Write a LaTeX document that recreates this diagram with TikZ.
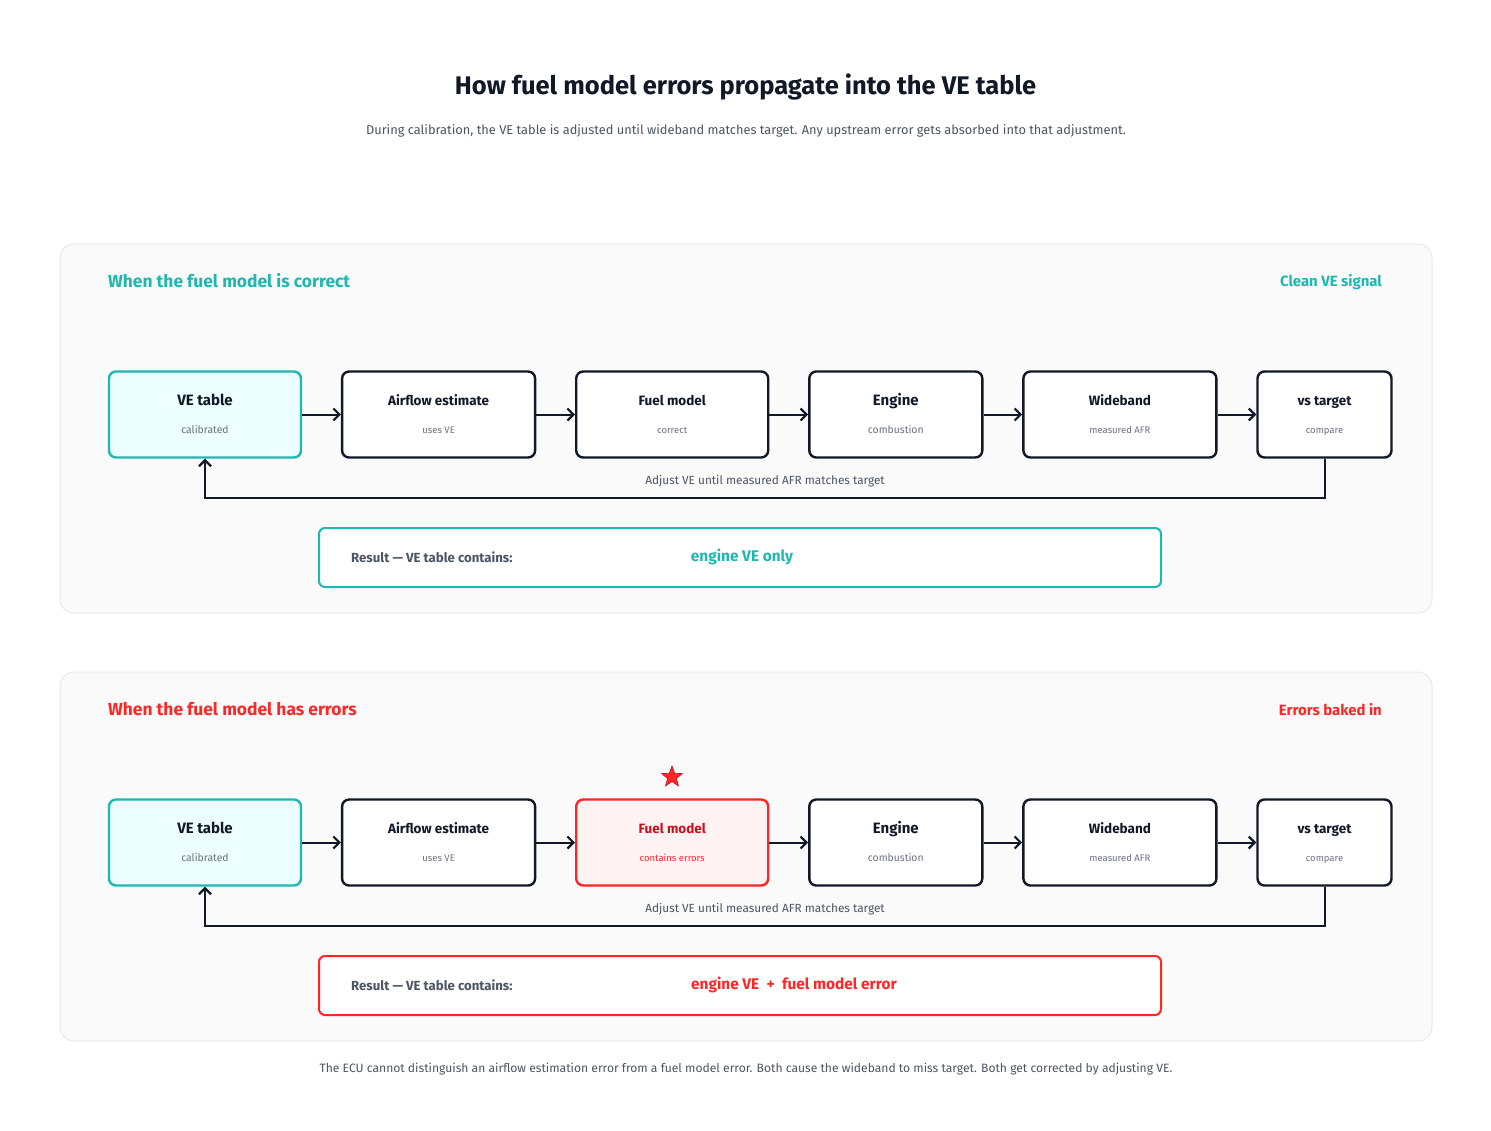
\documentclass[tikz,border=0pt]{standalone}
\usepackage{fontspec}
\setmainfont{Fira Sans}
\usetikzlibrary{positioning}
\usetikzlibrary{arrows.meta}
\usetikzlibrary{shapes.geometric}
\definecolor{ink}{HTML}{111827}
\definecolor{okteal}{HTML}{1DB8B0}
\definecolor{calfill}{HTML}{ECFEFF}
\definecolor{errred}{HTML}{FF2626}
\definecolor{errdark}{HTML}{C8101E}
\definecolor{errfill}{HTML}{FEF2F2}
\definecolor{muted}{HTML}{6B7280}
\definecolor{slate}{HTML}{4B5563}
\definecolor{panelbg}{HTML}{FAFAFA}
\definecolor{panelline}{HTML}{E8EAED}
\newcommand{\pxsize}[1]{\fontsize{#1}{#1}\selectfont}
\tikzset{stage/.style = {draw=ink, line width=2.4pt, rounded corners=7pt,
                         fill=white, minimum height=86pt, inner sep=0pt},
         calib/.style = {stage, draw=okteal, fill=calfill},
         fault/.style = {stage, draw=errred, fill=errfill},
         flow/.style = {draw=ink, line width=2pt,
                        -{Straight Barb[length=6pt,width=12pt,line width=2.2pt]}},
         panel/.style = {draw=panelline, fill=panelbg, line width=1pt, rounded corners=14pt},
         result/.style = {line width=2pt, fill=white, rounded corners=6pt},
         big/.style = {anchor=base, font=\pxsize{15}\bfseries, text=ink},
         small/.style = {anchor=base, font=\pxsize{13.5}\bfseries, text=ink},
         sub/.style = {anchor=base, font=\pxsize{10.4}, text=muted},
         tiny/.style = {anchor=base, font=\pxsize{9.5}, text=muted},
         note/.style = {font=\pxsize{12}, text=slate}}

\begin{document}
\begin{tikzpicture}[x=1pt, y=-1pt, node distance=38.7pt]
    \fill[white] (0, 0) rectangle (1491, 1130);
    \useasboundingbox (0, 0) rectangle (1491, 1130);

    \node[font=\pxsize{25.5}\bfseries, text=ink] (title) at (745.5, 87)
      {How fuel model errors propagate into the VE table};
    \node[note, font=\pxsize{12.8}] (subtitle) at (746, 131)
      {During calibration, the VE table is adjusted until wideband matches target. Any upstream error gets absorbed into that adjustment.};

    % correct fuel model
    \draw[panel] (60, 244) rectangle (1432, 613);
    \node[anchor=west, font=\pxsize{17.4}\bfseries, text=okteal, inner sep=0] (head1) at (108, 281)
      {When the fuel model is correct};
    \node[anchor=east, font=\pxsize{14.9}\bfseries, text=okteal, inner sep=0] (tag1) at (1382, 282)
      {Clean VE signal};

    \node[calib, minimum width=192pt] (ve1) at (205, 414.5) {};
    \node[stage, minimum width=193pt, right=of ve1] (air1) {};
    \node[stage, minimum width=192pt, right=of air1] (fuel1) {};
    \node[stage, minimum width=173pt, right=of fuel1] (eng1) {};
    \node[stage, minimum width=193pt, right=of eng1] (wb1) {};
    \node[stage, minimum width=134pt, right=of wb1] (tgt1) {};

    \node[big] at ([yshift=9.5pt]ve1.center) {VE table};
    \node[sub] at ([yshift=-19pt]ve1.center) {calibrated};
    \node[small] at ([yshift=9.5pt]air1.center) {Airflow estimate};
    \node[tiny] at ([yshift=-19pt]air1.center) {uses VE};
    \node[small] at ([yshift=9.5pt]fuel1.center) {Fuel model};
    \node[tiny] at ([yshift=-19pt]fuel1.center) {correct};
    \node[big] at ([yshift=9.5pt]eng1.center) {Engine};
    \node[sub] at ([yshift=-19pt]eng1.center) {combustion};
    \node[small] at ([yshift=9.5pt]wb1.center) {Wideband};
    \node[tiny] at ([yshift=-19pt]wb1.center) {measured AFR};
    \node[small] at ([yshift=9.5pt]tgt1.center) {vs target};
    \node[tiny] at ([yshift=-19pt]tgt1.center) {compare};

    \draw[flow] (ve1) -- (air1);
    \draw[flow] (air1) -- (fuel1);
    \draw[flow] (fuel1) -- (eng1);
    \draw[flow] (eng1) -- (wb1);
    \draw[flow] (wb1) -- (tgt1);
    \draw[flow] (tgt1.south) -- ++(0, 39) coordinate (loop1) -| (ve1.south);
    \node[note, font=\pxsize{11.8}] at (765, 481) {Adjust VE until measured AFR matches target};

    \draw[result, draw=okteal] (319, 528) rectangle (1161, 587);
    \node[anchor=west, inner sep=0, font=\pxsize{13.2}\bfseries, text=slate] (res1) at (351, 557)
      {Result — VE table contains:};
    \node[font=\pxsize{15.4}\bfseries, text=okteal] (val1) at (742, 557) {engine VE only};

    % fuel model with errors
    \begin{scope}[shift={(0, 428)}]
      \draw[panel] (60, 244) rectangle (1432, 613);
      \node[anchor=west, font=\pxsize{17.4}\bfseries, text=errred, inner sep=0] (head2) at (108, 281)
        {When the fuel model has errors};
      \node[anchor=east, font=\pxsize{14.9}\bfseries, text=errred, inner sep=0] (tag2) at (1382, 282)
        {Errors baked in};

      \node[calib, minimum width=192pt] (ve2) at (205, 414.5) {};
      \node[stage, minimum width=193pt, right=of ve2] (air2) {};
      \node[fault, minimum width=192pt, right=of air2] (fuel2) {};
      \node[stage, minimum width=173pt, right=of fuel2] (eng2) {};
      \node[stage, minimum width=193pt, right=of eng2] (wb2) {};
      \node[stage, minimum width=134pt, right=of wb2] (tgt2) {};

      \node[star, star points=5, star point ratio=2.4, fill=errred, draw=errdark,
            line width=0.6pt, minimum size=22pt, inner sep=0] (mark2) at (672, 349) {};

      \node[big] at ([yshift=9.5pt]ve2.center) {VE table};
      \node[sub] at ([yshift=-19pt]ve2.center) {calibrated};
      \node[small] at ([yshift=9.5pt]air2.center) {Airflow estimate};
      \node[tiny] at ([yshift=-19pt]air2.center) {uses VE};
      \node[small, text=errdark] at ([yshift=9.5pt]fuel2.center) {Fuel model};
      \node[tiny, text=errred] at ([yshift=-19pt]fuel2.center) {contains errors};
      \node[big] at ([yshift=9.5pt]eng2.center) {Engine};
      \node[sub] at ([yshift=-19pt]eng2.center) {combustion};
      \node[small] at ([yshift=9.5pt]wb2.center) {Wideband};
      \node[tiny] at ([yshift=-19pt]wb2.center) {measured AFR};
      \node[small] at ([yshift=9.5pt]tgt2.center) {vs target};
      \node[tiny] at ([yshift=-19pt]tgt2.center) {compare};

      \draw[flow] (ve2) -- (air2);
      \draw[flow] (air2) -- (fuel2);
      \draw[flow] (fuel2) -- (eng2);
      \draw[flow] (eng2) -- (wb2);
      \draw[flow] (wb2) -- (tgt2);
      \draw[flow] (tgt2.south) -- ++(0, 39) coordinate (loop2) -| (ve2.south);
      \node[note, font=\pxsize{11.8}] at (765, 481) {Adjust VE until measured AFR matches target};

      \draw[result, draw=errred] (319, 528) rectangle (1161, 587);
      \node[anchor=west, inner sep=0, font=\pxsize{13.2}\bfseries, text=slate] (res2) at (351, 557)
        {Result — VE table contains:};
      \node[anchor=west, inner sep=0, font=\pxsize{15.4}\bfseries, text=errred] (val2) at (691, 557)
        {engine VE \ + \ fuel model error};
    \end{scope}

    \node[note, font=\pxsize{12.1}] (footer) at (746, 1069)
      {The ECU cannot distinguish an airflow estimation error from a fuel model error. Both cause the wideband to miss target. Both get corrected by adjusting VE.};
\end{tikzpicture}
\end{document}
